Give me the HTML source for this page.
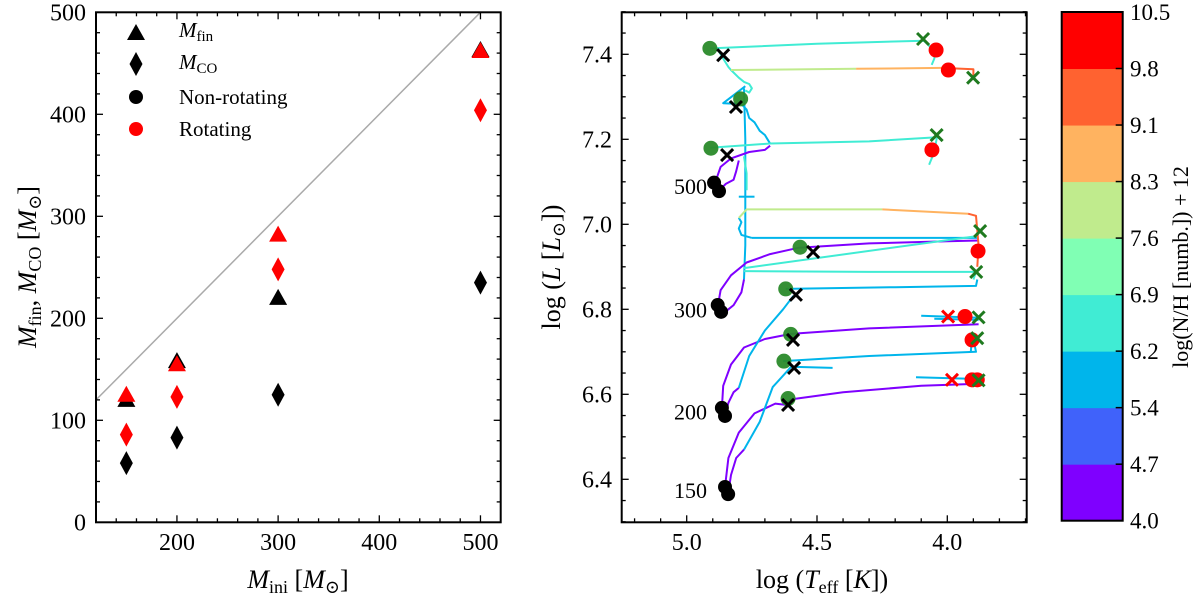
<!DOCTYPE html>
<html><head><meta charset="utf-8"><style>
html,body{margin:0;padding:0;background:#fff;}
svg, svg text{font-family:"Liberation Serif","DejaVu Serif",serif;}
</style></head><body>
<svg id="fig" width="1200" height="599" viewBox="0 0 1200 599" xmlns="http://www.w3.org/2000/svg" font-family="Liberation Serif, DejaVu Serif, serif">
<g id="left"></g>
<g id="right"></g>
<g id="cbar"></g>
</svg>
<script>
// ---------- Left panel data ----------
const masses = [150, 200, 300, 500];
const mfinNonRot = [120, 158, 220, 463];
const mfinRot = [125, 155, 282, 462];
const mcoNonRot = [58, 83, 125, 235];
const mcoRot = [86, 123, 248, 404];
const leftXTicks = [200, 300, 400, 500];
const leftYTicks = [0, 100, 200, 300, 400, 500];

// ---------- Right panel data ----------
const zamsT = [4.895, 4.876, 4.881, 4.868, 4.865, 4.853, 4.853, 4.841];
const zamsL = [7.098, 7.078, 6.810, 6.794, 6.568, 6.549, 6.382, 6.365];
const zamsLabels = ["500", "300", "200", "150"];
const zamsLabelL = [7.09, 6.80, 6.56, 6.375];
const greenT = [4.911, 4.793, 4.907, 4.565, 4.620, 4.601, 4.627, 4.611];
const greenL = [7.414, 7.295, 7.179, 6.946, 6.848, 6.741, 6.678, 6.590];
const blackXT = [4.860, 4.811, 4.845, 4.515, 4.581, 4.592, 4.588, 4.611];
const blackXL = [7.398, 7.276, 7.163, 6.935, 6.834, 6.728, 6.662, 6.575];
const redT = [4.043, 3.996, 4.059, 3.882, 3.932, 3.905, 3.905, 3.885];
const redL = [7.410, 7.363, 7.175, 6.937, 6.783, 6.728, 6.634, 6.634];
const redXT = [3.997, 3.982];
const redXL = [6.783, 6.634];
const greenXT = [4.093, 3.901, 4.041, 3.874, 3.889, 3.880, 3.885, 3.880];
const greenXL = [7.436, 7.345, 7.210, 6.984, 6.888, 6.781, 6.732, 6.633];
const tracks = [
 {nh:6.5, pts:[[4.91,7.414],[4.50,7.425],[4.09,7.432],[4.07,7.42],[4.06,7.41],[4.045,7.42],[4.05,7.39],[4.06,7.375]]},
 {nh:6.5, pts:[[4.88,7.41],[4.86,7.39],[4.84,7.37],[4.83,7.363],[4.80,7.345],[4.78,7.335],[4.76,7.33],[4.75,7.32],[4.76,7.31],[4.775,7.315]]},
 {nh:8.0, pts:[[4.83,7.363],[4.35,7.366]]},
 {nh:8.7, pts:[[4.35,7.366],[4.02,7.368]]},
 {nh:9.5, pts:[[4.02,7.368],[3.90,7.365],[3.90,7.35]]},
 {nh:5.8, pts:[[4.775,7.325],[4.86,7.285],[4.79,7.283],[4.77,7.27],[4.76,7.25],[4.74,7.24],[4.73,7.23],[4.72,7.22],[4.70,7.21],[4.69,7.20],[4.68,7.19]]},
 {nh:5.8, pts:[[4.78,7.32],[4.775,7.2],[4.775,7.07],[4.775,6.95],[4.78,6.87]]},
 {nh:4.3, pts:[[4.78,6.87],[4.79,6.84],[4.82,6.81],[4.84,6.80],[4.86,6.79]]},
 {nh:5.8, pts:[[4.80,7.065],[4.74,7.065]]},
 {nh:6.5, pts:[[4.77,7.08],[4.77,7.12],[4.78,7.16]]},
 {nh:6.5, pts:[[4.91,7.18],[4.68,7.19],[4.30,7.195],[4.04,7.205]]},
 {nh:6.5, pts:[[4.04,7.205],[4.05,7.17],[4.07,7.14]]},
 {nh:4.3, pts:[[4.89,7.10],[4.87,7.135],[4.83,7.155],[4.76,7.170],[4.70,7.175],[4.68,7.185]]},
 {nh:4.3, pts:[[4.875,7.08],[4.85,7.095],[4.82,7.105],[4.81,7.125],[4.80,7.15]]},
 {nh:4.3, pts:[[4.88,6.81],[4.87,6.845],[4.83,6.88],[4.77,6.91],[4.68,6.93],[4.57,6.945],[4.30,6.955],[4.00,6.96],[3.88,6.962]]},
 {nh:5.8, pts:[[4.75,6.968],[4.30,6.968],[3.88,6.968]]},
 {nh:5.8, pts:[[4.75,6.968],[4.79,6.975],[4.80,6.99],[4.79,7.005],[4.80,7.015]]},
 {nh:8.0, pts:[[4.80,7.015],[4.77,7.035],[4.25,7.035]]},
 {nh:8.7, pts:[[4.25,7.035],[3.92,7.025]]},
 {nh:9.5, pts:[[3.92,7.025],[3.89,7.02],[3.88,6.95],[3.885,6.9]]},
 {nh:6.5, pts:[[4.78,6.897],[3.89,6.972]]},
 {nh:6.5, pts:[[4.78,6.89],[4.30,6.888],[3.89,6.888],[3.90,6.87]]},
 {nh:5.8, pts:[[4.62,6.848],[4.20,6.852],[3.89,6.855],[3.885,6.87]]},
 {nh:4.3, pts:[[4.865,6.568],[4.86,6.62],[4.83,6.67],[4.78,6.71],[4.70,6.73],[4.60,6.742],[4.30,6.755],[3.88,6.765]]},
 {nh:4.3, pts:[[4.853,6.549],[4.84,6.58],[4.82,6.605],[4.80,6.615]]},
 {nh:5.8, pts:[[4.80,6.615],[4.76,6.69],[4.70,6.75],[4.63,6.80],[4.59,6.832]]},
 {nh:5.8, pts:[[4.10,6.785],[3.88,6.78]]},
 {nh:5.8, pts:[[4.05,6.778],[3.88,6.775]]},
 {nh:4.3, pts:[[4.853,6.382],[4.84,6.45],[4.80,6.51],[4.74,6.555],[4.66,6.578],[4.62,6.575],[4.60,6.588],[4.40,6.605],[4.10,6.62],[3.88,6.625]]},
 {nh:4.3, pts:[[4.841,6.365],[4.83,6.41],[4.81,6.45],[4.78,6.47]]},
 {nh:5.8, pts:[[4.78,6.47],[4.72,6.535],[4.67,6.617],[4.60,6.664]]},
 {nh:5.8, pts:[[4.63,6.678],[4.30,6.690],[3.89,6.70],[3.90,6.73]]},
 {nh:5.8, pts:[[4.60,6.665],[4.44,6.662]]},
 {nh:5.8, pts:[[4.12,6.64],[3.88,6.636]]},
 {nh:5.8, pts:[[3.91,6.70],[3.905,6.735],[3.895,6.73]]}
];
const rightXTicks = [5.0, 4.5, 4.0];
const rightYTicks = [6.4, 6.6, 6.8, 7.0, 7.2, 7.4];

// ---------- Colorbar data ----------
const cbLevels = ["4.0","4.7","5.4","6.2","6.9","7.6","8.3","9.1","9.8","10.5"];
const cbValues = [4.0,4.7,5.4,6.2,6.9,7.6,8.3,9.1,9.8,10.5];
const cbColors = ["#7f00ff","#4062fa","#00b5eb","#40ecd4","#80ffb4","#c0eb8d","#ffb360","#ff6230","#ff0000"];

const NS = "http://www.w3.org/2000/svg";
const FF = '"Liberation Serif", "DejaVu Serif", serif';
function el(parent, tag, attrs, name, inter) {
  const e = document.createElementNS(NS, tag);
  for (const k in attrs) e.setAttribute(k, attrs[k]);
  if (tag === 'text') e.style.fontFamily = FF;
  
  
  parent.appendChild(e);
  return e;
}
function txt(parent, x, y, s, size, anchor, name, extra) {
  const t = el(parent, 'text', Object.assign({x:x, y:y, 'font-size':size, 'text-anchor':anchor||'middle', fill:'#000'}, extra||{}), name, false);
  t.textContent = s;
  return t;
}

// ---------- Left panel ----------
const L = document.getElementById('left');
const LX0 = 96, LX1 = 500.7, LY0 = 12.3, LY1 = 522.3;
const LX = v => LX0 + (v - 120) * (LX1 - LX0) / 400;
const LY = v => LY1 - v * (LY1 - LY0) / 500;

el(L, 'line', {x1:LX(120), y1:LY(120), x2:LX(500), y2:LY(500), stroke:'#aaaaaa', 'stroke-width':1.5}, 'one-to-one-line', false);

for (let v = 140; v <= 520; v += 20) {
  const major = leftXTicks.includes(v);
  const len = major ? 7 : 4;
  el(L, 'line', {x1:LX(v), y1:LY1, x2:LX(v), y2:LY1-len, stroke:'#000', 'stroke-width':1.3}, 'x-tick', false);
  el(L, 'line', {x1:LX(v), y1:LY0, x2:LX(v), y2:LY0+len, stroke:'#000', 'stroke-width':1.3}, 'x-tick-top', false);
}
leftXTicks.forEach(v => txt(L, LX(v), 550, String(v), 24, 'middle', 'x-tick-label'));
for (let v = 0; v <= 500; v += 20) {
  const major = v % 100 === 0;
  const len = major ? 7 : 4;
  el(L, 'line', {x1:LX0, y1:LY(v), x2:LX0+len, y2:LY(v), stroke:'#000', 'stroke-width':1.3}, 'y-tick', false);
  el(L, 'line', {x1:LX1, y1:LY(v), x2:LX1-len, y2:LY(v), stroke:'#000', 'stroke-width':1.3}, 'y-tick-right', false);
}
leftYTicks.forEach(v => txt(L, 86, LY(v)+8, String(v), 24, 'end', 'y-tick-label'));

function tri(g, cx, cy, color, name) {
  el(g, 'polygon', {points:`${cx-9},${cy+7} ${cx+9},${cy+7} ${cx},${cy-9}`, fill:color}, name, false);
}
function dia(g, cx, cy, color, name) {
  el(g, 'polygon', {points:`${cx},${cy-12} ${cx+6.5},${cy} ${cx},${cy+12} ${cx-6.5},${cy}`, fill:color}, name, false);
}
masses.forEach((m, i) => {
  tri(L, LX(m), LY(mfinNonRot[i]), '#000', 'mfin-nonrot-marker');
  dia(L, LX(m), LY(mcoNonRot[i]), '#000', 'mco-nonrot-marker');
});
masses.forEach((m, i) => {
  tri(L, LX(m), LY(mfinRot[i]), '#ff0000', 'mfin-rot-marker');
  dia(L, LX(m), LY(mcoRot[i]), '#ff0000', 'mco-rot-marker');
});
el(L, 'rect', {x:LX0, y:LY0, width:LX1-LX0, height:LY1-LY0, fill:'none', stroke:'#000', 'stroke-width':2}, 'left-plot-frame', false);

// legend
const LG = el(L, 'g', {}, 'legend', false);
tri(LG, 136, 33, '#000', 'legend-mfin-marker');
dia(LG, 136, 64, '#000', 'legend-mco-marker');
el(LG, 'circle', {cx:136, cy:97, r:7, fill:'#000'}, 'legend-nonrot-marker', false);
el(LG, 'circle', {cx:136, cy:129, r:7, fill:'#ff0000'}, 'legend-rot-marker', false);
const lg1 = el(LG, 'text', {x:179, y:37, 'font-size':21}, 'legend-mfin-label', false);
lg1.innerHTML = '<tspan font-style="italic">M</tspan><tspan font-size="15" dy="4">fin</tspan>';
const lg2 = el(LG, 'text', {x:179, y:69, 'font-size':21}, 'legend-mco-label', false);
lg2.innerHTML = '<tspan font-style="italic">M</tspan><tspan font-size="15" dy="4">CO</tspan>';
txt(LG, 179, 104, 'Non-rotating', 21, 'start', 'legend-nonrot-label');
txt(LG, 179, 136, 'Rotating', 21, 'start', 'legend-rot-label');

const lxl = el(L, 'text', {x:298, y:588, 'font-size':26, 'text-anchor':'middle'}, 'x-axis-title', false);
lxl.innerHTML = '<tspan font-style="italic">M</tspan><tspan font-size="18" dy="5">ini</tspan><tspan dy="-5"> [</tspan><tspan font-style="italic">M</tspan><tspan font-size="18" dy="5">⊙</tspan><tspan dy="-5">]</tspan>';
const lyl = el(L, 'text', {x:0, y:0, 'font-size':26, 'text-anchor':'middle', transform:'translate(36,267) rotate(-90)'}, 'y-axis-title', false);
lyl.innerHTML = '<tspan font-style="italic">M</tspan><tspan font-size="18" dy="5">fin</tspan><tspan dy="-5">, </tspan><tspan font-style="italic">M</tspan><tspan font-size="18" dy="5">CO</tspan><tspan dy="-5"> [</tspan><tspan font-style="italic">M</tspan><tspan font-size="18" dy="5">⊙</tspan><tspan dy="-5">]</tspan>';

// ---------- Right panel ----------
const R = document.getElementById('right');
const RX0 = 621.7, RX1 = 1026.7, RY0 = 12.3, RY1 = 522.3;
const RX = t => 686.7 + (5.0 - t) * 260.6;
const RY = l => 309.3 - (l - 6.8) * 425;
function nhColor(v) {
  for (let i = 0; i < cbColors.length; i++) if (v < cbValues[i+1]) return cbColors[i];
  return cbColors[cbColors.length-1];
}
const TR = el(R, 'g', {}, 'evolution-tracks', false);
tracks.forEach(tr => {
  const pts = tr.pts.map(p => RX(p[0]).toFixed(1) + ',' + RY(p[1]).toFixed(1)).join(' ');
  el(TR, 'polyline', {points:pts, fill:'none', stroke:nhColor(tr.nh), 'stroke-width':2, 'stroke-linejoin':'round'}, 'track-segment', false);
});
function xmark(g, cx, cy, color, name) {
  el(g, 'path', {d:`M${cx-6},${cy-6}L${cx+6},${cy+6}M${cx-6},${cy+6}L${cx+6},${cy-6}`, stroke:color, 'stroke-width':3, fill:'none'}, name, false);
}
zamsT.forEach((t, i) => el(R, 'circle', {cx:RX(t), cy:RY(zamsL[i]), r:7, fill:'#000'}, 'zams-marker', false));
zamsLabels.forEach((s, i) => txt(R, 707, RY(zamsLabelL[i])+8, s, 22, 'end', 'mass-label-' + s));
greenT.forEach((t, i) => el(R, 'circle', {cx:RX(t), cy:RY(greenL[i]), r:7.5, fill:'#2a8a2a', 'fill-opacity':0.95}, 'green-circle-marker', false));
blackXT.forEach((t, i) => xmark(R, RX(t), RY(blackXL[i]), '#000', 'black-x-marker'));
redT.forEach((t, i) => el(R, 'circle', {cx:RX(t), cy:RY(redL[i]), r:7.5, fill:'#ff0000'}, 'red-circle-marker', false));
redXT.forEach((t, i) => xmark(R, RX(t), RY(redXL[i]), '#ff0000', 'red-x-marker'));
greenXT.forEach((t, i) => xmark(R, RX(t), RY(greenXL[i]), '#1f7a1f', 'green-x-marker'));

for (let k = 52; k >= 37; k--) {
  const t = k / 10;
  const major = k % 5 === 0;
  const len = major ? 7 : 4;
  el(R, 'line', {x1:RX(t), y1:RY1, x2:RX(t), y2:RY1-len, stroke:'#000', 'stroke-width':1.3}, 'x-tick', false);
  el(R, 'line', {x1:RX(t), y1:RY0, x2:RX(t), y2:RY0+len, stroke:'#000', 'stroke-width':1.3}, 'x-tick-top', false);
}
rightXTicks.forEach(v => txt(R, RX(v), 550, v.toFixed(1), 24, 'middle', 'x-tick-label'));
for (let k = 126; k <= 150; k++) {
  const l = k / 20;
  const major = k % 4 === 0;
  const len = major ? 7 : 4;
  el(R, 'line', {x1:RX0, y1:RY(l), x2:RX0+len, y2:RY(l), stroke:'#000', 'stroke-width':1.3}, 'y-tick', false);
  el(R, 'line', {x1:RX1, y1:RY(l), x2:RX1-len, y2:RY(l), stroke:'#000', 'stroke-width':1.3}, 'y-tick-right', false);
}
rightYTicks.forEach(v => txt(R, 612, RY(v)+8, v.toFixed(1), 24, 'end', 'y-tick-label'));
el(R, 'rect', {x:RX0, y:RY0, width:RX1-RX0, height:RY1-RY0, fill:'none', stroke:'#000', 'stroke-width':2}, 'right-plot-frame', false);
const rxl = el(R, 'text', {x:822, y:588, 'font-size':26, 'text-anchor':'middle'}, 'x-axis-title', false);
rxl.innerHTML = 'log (<tspan font-style="italic">T</tspan><tspan font-size="18" dy="5">eff</tspan><tspan dy="-5"> [</tspan><tspan font-style="italic">K</tspan>])';
const ryl = el(R, 'text', {x:0, y:0, 'font-size':26, 'text-anchor':'middle', transform:'translate(560,267) rotate(-90)'}, 'y-axis-title', false);
ryl.innerHTML = 'log (<tspan font-style="italic">L</tspan> [<tspan font-style="italic">L</tspan><tspan font-size="18" dy="5">⊙</tspan><tspan dy="-5">])</tspan>';

// ---------- Colorbar ----------
const C = document.getElementById('cbar');
const CX0 = 1061.7, CX1 = 1122.7, CY0 = 12, CY1 = 520.7;
const CY = i => CY1 - i * (CY1 - CY0) / (cbColors.length);
cbColors.forEach((c, i) => el(C, 'rect', {x:CX0, y:CY(i+1), width:CX1-CX0, height:CY(i)-CY(i+1)+0.5, fill:c}, 'colorbar-band', false));
cbLevels.forEach((s, i) => {
  el(C, 'line', {x1:CX1-7, y1:CY(i), x2:CX1, y2:CY(i), stroke:'#000', 'stroke-width':1.5}, 'colorbar-tick', false);
  txt(C, 1130, CY(i)+8, s, 23, 'start', 'colorbar-tick-label');
});
el(C, 'rect', {x:CX0, y:CY0, width:CX1-CX0, height:CY1-CY0, fill:'none', stroke:'#000', 'stroke-width':2}, 'colorbar-frame', false);
txt(C, 0, 0, 'log(N/H [numb.]) + 12', 22, 'middle', 'colorbar-title', {transform:'translate(1188,267) rotate(-90)'});
</script>
</body></html>
